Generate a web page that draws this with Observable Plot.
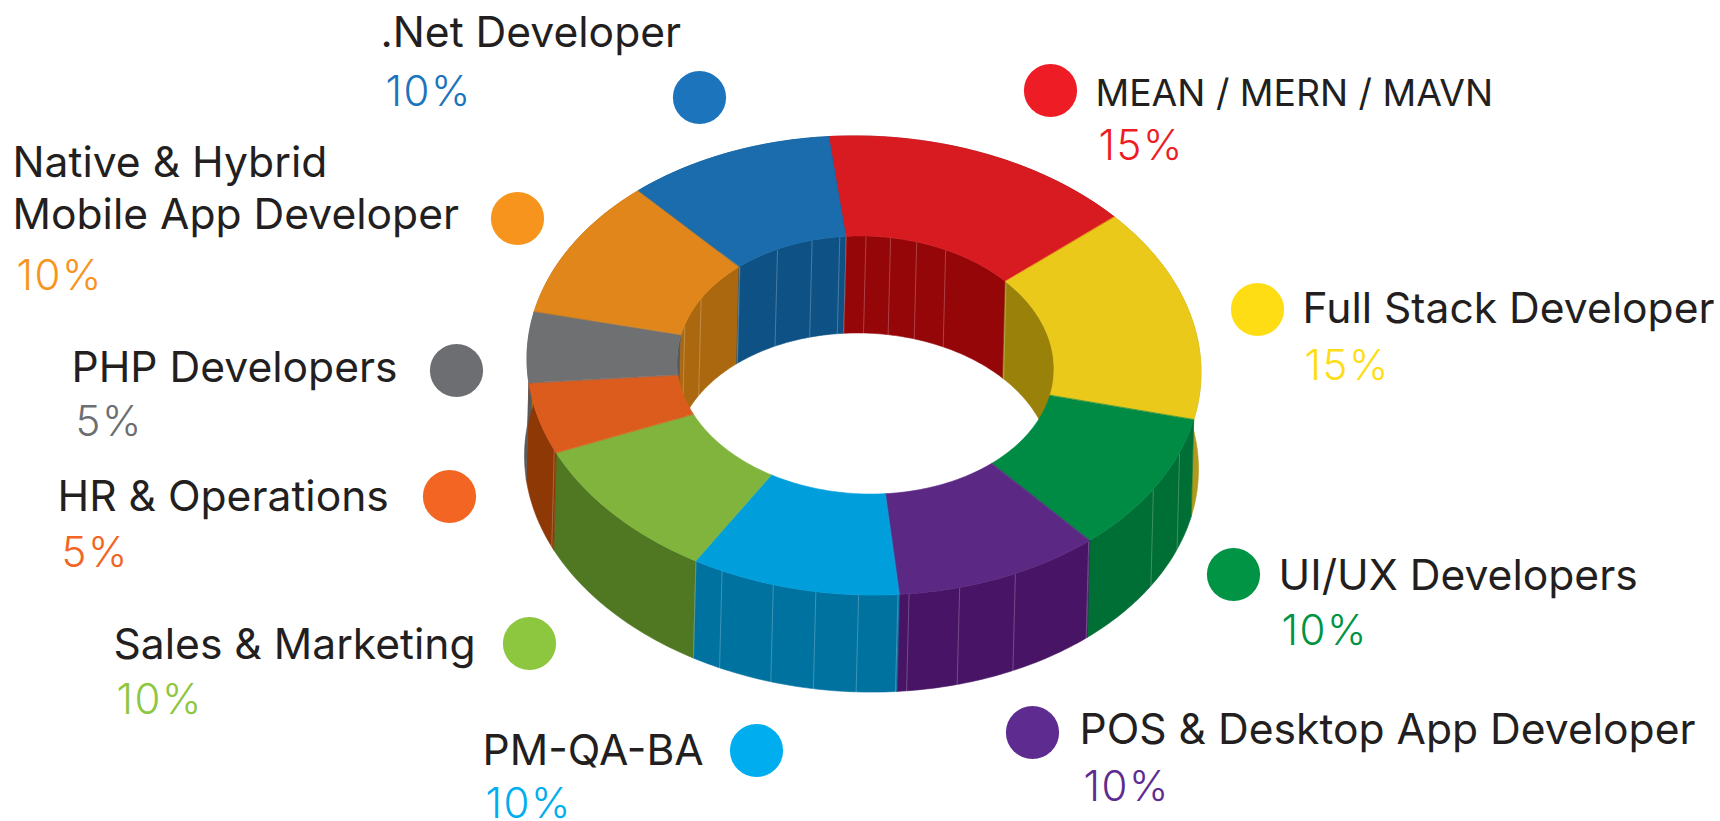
<!DOCTYPE html>
<html>
<head>
<meta charset="utf-8">
<script src="https://cdn.jsdelivr.net/npm/d3@7"></script>
<script src="https://cdn.jsdelivr.net/npm/@observablehq/plot@0.6"></script>
<style>
html,body{margin:0;padding:0;background:#fff;overflow:hidden}
svg{display:block}
.pct text{letter-spacing:1.5px}
</style>
</head>
<body>
<div id="chart"></div>
<script>
// ---- data ----
const roles = ["MEAN / MERN / MAVN","Full Stack Developer","UI/UX Developers","POS & Desktop App Developer","PM-QA-BA","Sales & Marketing","HR & Operations","PHP Developers","Native & Hybrid\nMobile App Developer",".Net Developer"];
const shares = [15,15,10,10,10,10,5,5,10,10];

// ---- style ----
const dotColors  = ["#EE1C25","#FFDD15","#009444","#5E2C91","#00AEEF","#8DC63F","#F26522","#6D6E71","#F7941D","#1C75BC"];
const faceColors = ["#D81B21","#EBC91B","#008B45","#5B2883","#009FDB","#80B43C","#DC5C1E","#6F7072","#E0861A","#1A6CAD"];
const wallColors = ["#8E0307","#B09A1B","#006F35","#481465","#0072A0","#507823","#8E3806","#58595B","#AC680E","#0E5285"];
const innerColors= ["#950609","#9A820A","#006F35","#481465","#0072A0","#507823","#8E3806","#58595B","#AC680E","#0E5285"];
const textColor = "#231F20";

// ---- layout ----
const W = 1720, H = 821;
const startAngle = -6;
const tilt = 0.02;
const outer = {cx:864, cy:365.5, rx:337, ry:229.5};
const inner = {cx:865.5, cy:365, rx:188.5, ry:129};
const extrude = {dx:-2.5, dy:97};
const dotX   = [1050,1257,1233,1032,756,529,449,456,517,699];
const dotY   = [90,309,574,732,750,643,496,370,218,97];
const nameX  = [1095,1302,1278,1079,482,113,57,71,12,380];
const nameY  = [105,322,589,743,764,658,510,381,228,46];
const pctX   = [1098,1304,1281,1083,485,116,61,75,16,385];
const pctY   = [159,379,644,800,817,713,566,435,289,105];
const outerSeams = [110.8,121,138.3,153.4,163.6,172.4,174.3,181,188.3,195.7,205,210,247];
const innerSeams = [-74,-61,-42,-28,-16.6,-8,-6,0,7.5,15.6,25,48];

// ---- geometry derived from shares ----
const pt = (e, a) => {
  const t = a * Math.PI / 180;
  const x = e.cx + e.rx * Math.sin(t);
  return [x, e.cy - e.ry * Math.cos(t) + tilt * (x - e.cx)];
};
const total = d3.sum(shares);
const segs = [];
let acc = startAngle;
shares.forEach((s,i) => { const a0 = acc; acc += s/total*360; segs.push({i,a0,a1:acc}); });

const sweep = (a0,a1) => { const n = Math.max(2, Math.ceil(a1-a0)); return d3.range(n+1).map(k => a0+(a1-a0)*k/n); };

const faces = [], walls = [], innerWalls = [];
for (const {i,a0,a1} of segs) {
  for (const a of sweep(a0,a1)) {
    const [ox,oy] = pt(outer,a), [ix,iy] = pt(inner,a);
    faces.push({z:i,a,x1:ox,y1:oy,x2:ix,y2:iy,c:faceColors[i]});
    walls.push({z:i,a,x1:ox,y1:oy,x2:ox+extrude.dx,y2:oy+extrude.dy,c:wallColors[i]});
  }
  const norm = x => x > 180 ? x-360 : x;
  let b0 = norm(a0), b1 = b0 + (a1-a0);
  b0 = Math.max(b0,-90); b1 = Math.min(b1,90);
  if (b1 > b0) for (const a of sweep(b0,b1)) {
    const [ix,iy] = pt(inner,a);
    innerWalls.push({z:i,a,x1:ix,y1:iy,x2:ix+extrude.dx,y2:iy+extrude.dy,c:innerColors[i]});
  }
}
const seam = (e,list) => list.map(a => { const [x,y]=pt(e,a); return {x1:x,y1:y,x2:x+extrude.dx,y2:y+extrude.dy}; });

const areaOpts = {x1:"x1",y1:"y1",x2:"x2",y2:"y2",z:"z",fill:"c",stroke:"c",strokeWidth:0.6,curve:"linear"};
const labels = roles.map((r,i)=>({r,p:shares[i]+"%",dx:dotX[i],dy:dotY[i],nx:nameX[i],ny:nameY[i],px:pctX[i],py:pctY[i],dc:dotColors[i]}));

const chart = Plot.plot({
  width:W, height:H, margin:0,
  x:{domain:[0,W],range:[0,W],axis:null},
  y:{domain:[0,H],range:[0,H],axis:null},
  color:{type:"identity"},
  style:{background:"#fff",fontFamily:"Inter, sans-serif",maxWidth:"none"},
  marks:[
    Plot.area(innerWalls,areaOpts),
    Plot.link(seam(inner,innerSeams),{x1:"x1",y1:"y1",x2:"x2",y2:"y2",stroke:"#fff",strokeOpacity:0.3,strokeWidth:0.8}),
    Plot.area(walls,areaOpts),
    Plot.link(seam(outer,outerSeams),{x1:"x1",y1:"y1",x2:"x2",y2:"y2",stroke:"#fff",strokeOpacity:0.3,strokeWidth:0.8}),
    Plot.area(faces,areaOpts),
    Plot.dot(labels,{x:"dx",y:"dy",r:26.6,fill:"dc",stroke:null}),
    Plot.text(labels.slice(0,1),{x:"nx",y:"ny",text:"r",textAnchor:"start",lineAnchor:"bottom",fontSize:37.3,fill:textColor,fontWeight:400}),
    Plot.text(labels.slice(1),{x:"nx",y:"ny",text:"r",textAnchor:"start",lineAnchor:"bottom",lineHeight:1.21,fontSize:42.6,fill:textColor,fontWeight:400}),
    Plot.text(labels,{x:"px",y:"py",text:"p",textAnchor:"start",lineAnchor:"bottom",fontSize:42,fill:"dc",fontWeight:300,className:"pct"})
  ]
});
document.getElementById("chart").appendChild(chart);
</script>
</body>
</html>
